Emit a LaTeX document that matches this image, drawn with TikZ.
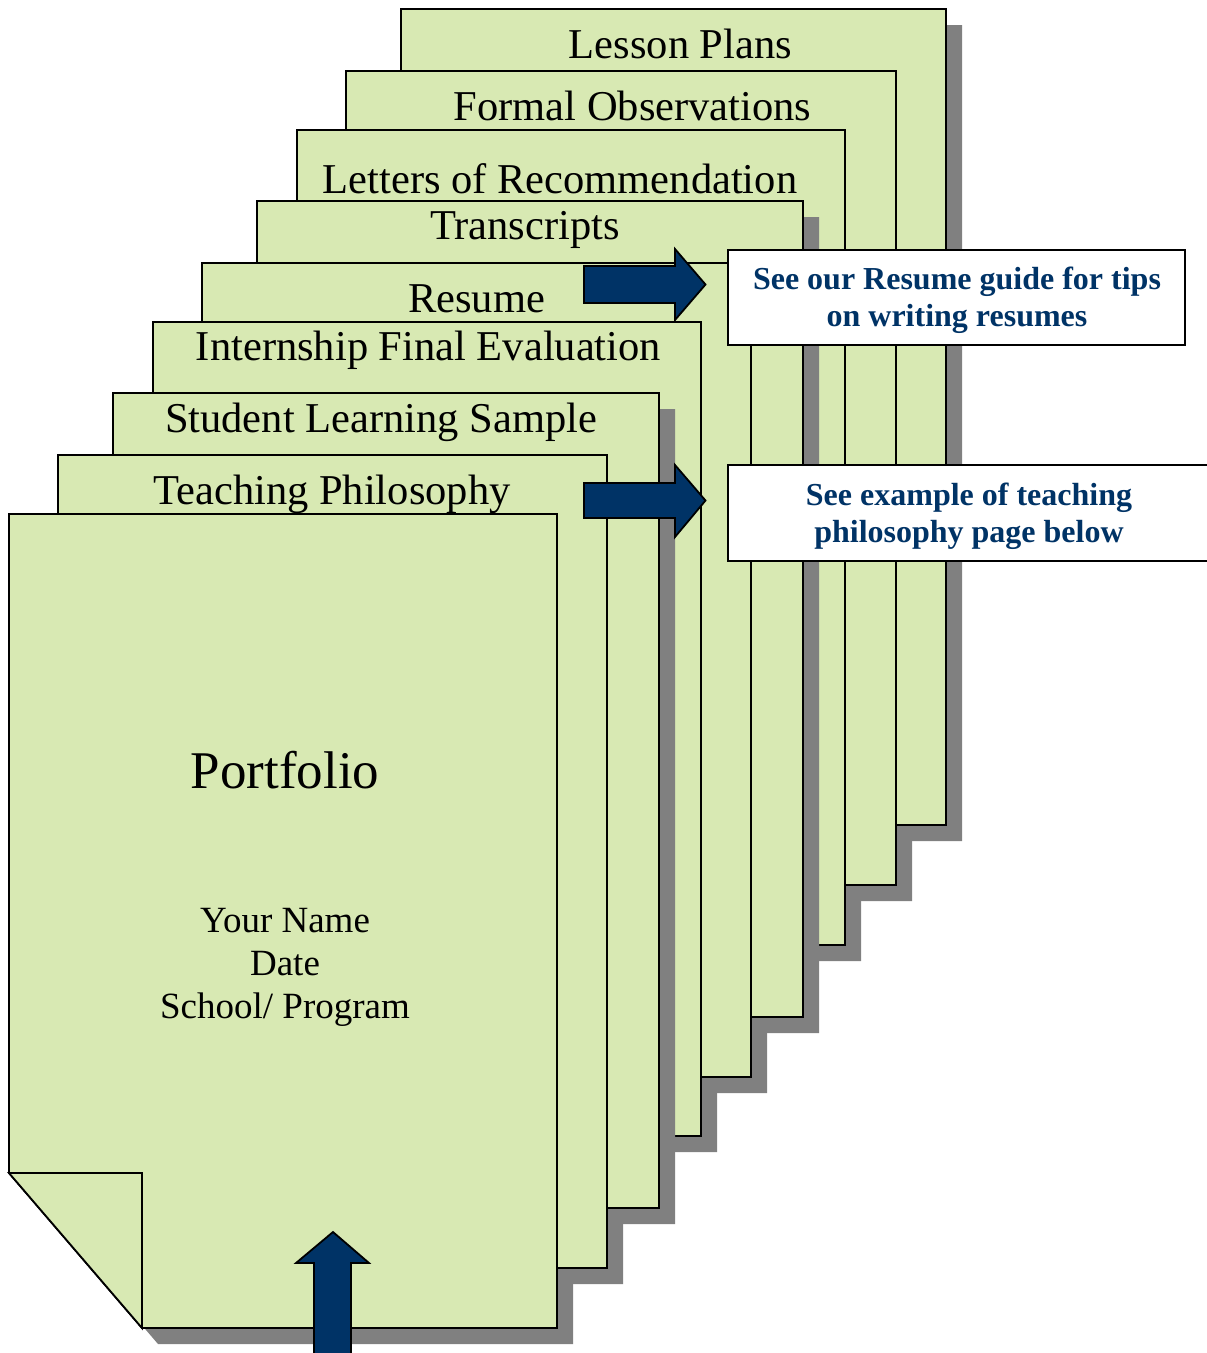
\documentclass[tikz,border=0pt]{standalone}
\usepackage{fontspec}
\setmainfont{Liberation Serif}
\definecolor{pagegreen}{RGB}{216,233,179}
\definecolor{shadowgrey}{RGB}{128,128,128}
\definecolor{navyblue}{RGB}{0,51,102}
\tikzset{
  pageline/.style={draw=black, line width=1.8pt, fill=pagegreen, line join=miter},
  shadowfill/.style={fill=shadowgrey},
  lbl/.style={anchor=base, inner sep=0pt, font=\fontsize{42.5}{50}\selectfont},
  covertext/.style={anchor=base, inner sep=0pt, font=\fontsize{37}{43}\selectfont},
  calloutbox/.style={draw=black, line width=2pt, fill=white},
  callouttext/.style={anchor=base, inner sep=0pt, text=navyblue, font=\fontsize{32}{38}\bfseries\selectfont},
  blockarrow/.style={draw=black, line width=1.8pt, fill=navyblue, line join=miter},
}
% sheet outline with cut bottom-left corner: #1 left, #2 top, #3 right, #4 bottom
\newcommand{\sheetpath}[4]{(#1,#2) -- (#3,#2) -- (#3,#4) -- (#1+133,#4) -- (#1,#4-155) -- cycle}
\newcommand{\shadowsheet}[4]{\path[shadowfill] \sheetpath{#1+16}{#2+16}{#3+16}{#4+16};}
\newcommand{\paperSheet}[4]{\path[pageline] \sheetpath{#1}{#2}{#3}{#4};}
\begin{document}
\begin{tikzpicture}[x=1pt,y=-1pt]
\useasboundingbox (0,0) rectangle (1207,1353);
\begin{scope}
\clip (0,0) rectangle (1207,1353);
% ---- group A (back) ----
\shadowsheet{401}{9}{946}{825}
\shadowsheet{346}{71}{896}{885}
\shadowsheet{297}{130}{845}{945}
\paperSheet{401}{9}{946}{825}
\node[lbl] (lesson) at (680.5,58) {Lesson Plans};
\paperSheet{346}{71}{896}{885}
\node[lbl] (formal) at (632.5,120.5) {Formal Observations};
\paperSheet{297}{130}{845}{945}
\node[lbl] (letters) at (560,193) {Letters of Recommendation};
% ---- group B ----
\shadowsheet{257}{201}{803}{1017}
\shadowsheet{202}{263}{751}{1077}
\shadowsheet{153}{322}{701}{1136}
\paperSheet{257}{201}{803}{1017}
\node[lbl] (transcripts) at (525,239) {Transcripts};
\paperSheet{202}{263}{751}{1077}
\node[lbl] (resume) at (476.5,312) {Resume};
\paperSheet{153}{322}{701}{1136}
\node[lbl] (internship) at (428.5,360) {Internship Final Evaluation};
% ---- group C (front) ----
\shadowsheet{113}{393}{659}{1208}
\shadowsheet{58}{455}{607}{1268}
\shadowsheet{9}{514}{557}{1328}
\paperSheet{113}{393}{659}{1208}
\node[lbl] (student) at (381,432) {Student Learning Sample};
\paperSheet{58}{455}{607}{1268}
\node[lbl] (teaching) at (332,504.5) {Teaching Philosophy};
% portfolio cover with folded corner
\paperSheet{9}{514}{557}{1328}
\path[pageline] (9,1173) -- (142,1173) -- (142,1328) -- cycle;
\node[anchor=base, inner sep=0pt, font=\fontsize{53}{60}\selectfont] (portfolio) at (285,788) {Portfolio};
\node[covertext] (yourname) at (285,932) {Your Name};
\node[covertext] (date) at (285,975) {Date};
\node[covertext] (school) at (285,1018) {School/ Program};
% ---- block arrows ----
\path[blockarrow] (584,266) -- (675,266) -- (675,249) -- (705.5,284.5) -- (675,320) -- (675,303) -- (584,303) -- cycle;
\path[blockarrow] (584,483) -- (675,483) -- (675,465) -- (705.5,500.5) -- (675,537) -- (675,518) -- (584,518) -- cycle;
\path[blockarrow] (314,1365) -- (314,1263) -- (296,1263) -- (333,1232) -- (369,1263) -- (351,1263) -- (351,1365) -- cycle;
% ---- callouts ----
\path[calloutbox] (728,249.5) rectangle (1185,345);
\node[callouttext] (resumetip1) at (957,289.3) {See our Resume guide for tips};
\node[callouttext] (resumetip2) at (957,326.7) {on writing resumes};
\path[calloutbox] (728,465) rectangle (1212,561);
\node[callouttext] (teachtip1) at (969,505) {See example of teaching};
\node[callouttext] (teachtip2) at (969,542) {philosophy page below};
\end{scope}
\end{tikzpicture}
\end{document}
